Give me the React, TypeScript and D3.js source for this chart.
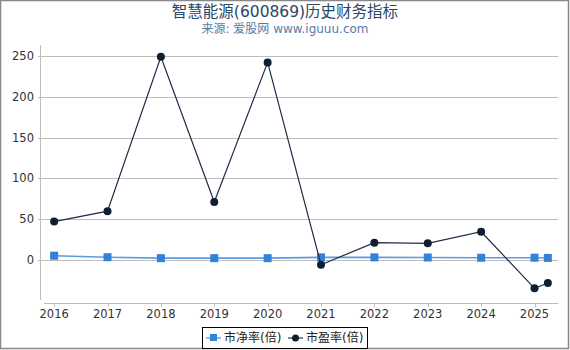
import React from "react";
import * as d3 from "d3";

const years = [2016, 2017, 2018, 2019, 2020, 2021, 2022, 2023, 2024, 2025, 2025.25];
const pbValues = [5, 3.2, 2, 2, 2, 3, 3, 2.8, 2.5, 2.6, 2.3];
const peValues = [47, 59.7, 249.5, 71, 242.5, -6, 21, 20.3, 34.5, -35, -28.5];
const xTicks = [2016, 2017, 2018, 2019, 2020, 2021, 2022, 2023, 2024, 2025];
const yTicks = [0, 50, 100, 150, 200, 250];
const title = "智慧能源(600869)历史财务指标";
const subtitle = "来源: 爱股网 www.iguuu.com";
const seriesNames = ["市净率(倍)", "市盈率(倍)"];

const W = 570;
const H = 350;
const FONT = "'DejaVu Sans', 'Noto Sans CJK SC', sans-serif";

export default function App() {
  const x = d3.scaleLinear().domain([2015.81, 2025.44]).range([44, 558]);
  const y = d3.scaleLinear().domain([0, 250]).range([259.8, 56.3]);
  const pts = years.map((yr, i) => ({ yr, pb: pbValues[i], pe: peValues[i] }));
  const pbLine = d3.line<any>().x((d) => x(d.yr)).y((d) => y(d.pb));
  const peLine = d3.line<any>().x((d) => x(d.yr)).y((d) => y(d.pe));
  const pbColor = "#3382d9";
  const peColor = "#0f1e33";
  return (
    <div style={{ position: "absolute", left: 0, top: 0 }}>
      <svg width={W} height={H} style={{ display: "block", fontFamily: FONT }}>
        <rect x={0} y={0} width={W} height={H} fill="#fff" />
        <rect x={0.5} y={0.5} width={W - 2} height={H - 2} fill="none" stroke="#888" strokeWidth={1.5} />
        <text x={285} y={17} textAnchor="middle" fontSize={15.5} fill="#2a4766">{title}</text>
        <text x={285} y={33} textAnchor="middle" fontSize={12} fill="#5a7aa6">{subtitle}</text>
        {yTicks.map((t) => (
          <g key={t}>
            <line x1={38} x2={558} y1={Math.round(y(t)) + 0.5} y2={Math.round(y(t)) + 0.5} stroke="#bdbdbd" strokeWidth={1} />
            <text x={34} y={y(t) + 4} textAnchor="end" fontSize={11.5} fill="#333">{t}</text>
          </g>
        ))}
        <line x1={40.5} x2={40.5} y1={45} y2={300} stroke="#bdbdbd" strokeWidth={1} />
        <line x1={44} x2={558} y1={303.5} y2={303.5} stroke="#bdbdbd" strokeWidth={1} />
        {xTicks.map((t) => (
          <g key={t}>
            <line x1={Math.round(x(t)) + 0.5} x2={Math.round(x(t)) + 0.5} y1={304} y2={307} stroke="#bdbdbd" />
            <text x={x(t)} y={318} textAnchor="middle" fontSize={11.5} fill="#333">{t}</text>
          </g>
        ))}
        <path d={pbLine(pts) || ""} fill="none" stroke="#5b9be2" strokeWidth={1.6} />
        {pts.map((d, i) => (
          <rect key={"pb" + i} x={x(d.yr) - 4} y={y(d.pb) - 4} width={8} height={8} fill={pbColor} />
        ))}
        <path d={peLine(pts) || ""} fill="none" stroke="#1e2d45" strokeWidth={1.2} />
        {pts.map((d, i) => (
          <circle key={"pe" + i} cx={x(d.yr)} cy={y(d.pe)} r={4} fill={peColor} />
        ))}
        <rect x={202.5} y={327.5} width={165} height={21} fill="#fff" stroke="#000" strokeWidth={1} />
        <line x1={206} x2={221} y1={338} y2={338} stroke="#8dbbee" strokeWidth={2} />
        <rect x={210} y={334} width={7} height={7} fill={pbColor} />
        <text x={224} y={342} fontSize={12} fill="#222">{seriesNames[0]}</text>
        <line x1={288} x2={303} y1={338} y2={338} stroke="#2a3a55" strokeWidth={1.2} />
        <circle cx={295.5} cy={338} r={3.5} fill={peColor} />
        <text x={306} y={342} fontSize={12} fill="#222">{seriesNames[1]}</text>
      </svg>
    </div>
  );
}
